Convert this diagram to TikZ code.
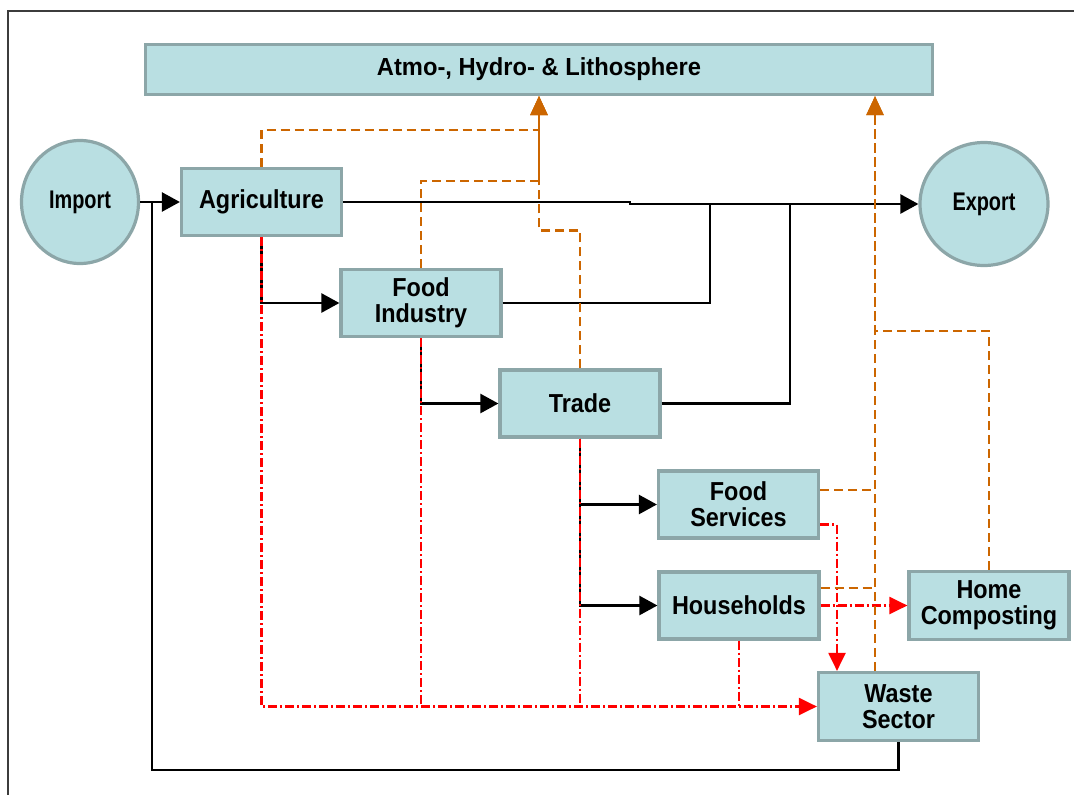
\documentclass[tikz,border=0pt]{standalone}
\usepackage{fontspec}
\setmainfont{Liberation Sans}
\newfontfamily\boxf[FakeStretch=0.9]{Liberation Sans}
\newfontfamily\atmof[FakeStretch=0.96]{Liberation Sans}
\newfontfamily\circf[FakeStretch=0.78]{Liberation Sans}
\usetikzlibrary{arrows.meta,shapes.geometric,calc}
\definecolor{boxfill}{RGB}{185,223,226}
\definecolor{boxline}{RGB}{140,166,168}
\definecolor{orng}{RGB}{204,102,0}
\definecolor{framec}{RGB}{60,60,60}
\begin{document}
\begin{tikzpicture}[x=1pt,y=-1pt,
  box/.style={draw=boxline, fill=boxfill, line width=3.2pt, minimum width=160pt, minimum height=67pt,
    inner sep=0pt, align=center, font=\boxf\bfseries\fontsize{26}{26}\selectfont},
  circ/.style={ellipse, draw=boxline, fill=boxfill, line width=3.2pt, inner sep=0pt,
    font=\circf\bfseries\fontsize{25.5}{26}\selectfont},
  blk/.style={line width=2.5pt, draw=black},
  blkarr/.style={blk, -{Triangle[length=18pt,width=19pt]}},
  orl/.style={line width=2.2pt, draw=orng, dash pattern=on 9pt off 5pt},
  orarr/.style={orl, -{Triangle[length=19pt,width=17pt]}},
  rdl/.style={line width=2.2pt, draw=red, dash pattern=on 9pt off 3pt on 2pt off 3pt},
  rdarr/.style={rdl, -{Triangle[length=18pt,width=17pt]}}
]
\useasboundingbox (0,0) rectangle (1074,795);
\draw[line width=1.5pt, draw=framec] (8,795) -- (8,11) -- (1074,11);

% nodes
\node[box, minimum width=787pt, minimum height=50pt, font=\atmof\bfseries\fontsize{24.7}{25}\selectfont]
  (atmo) at (539,69.5) {Atmo-, Hydro- \& Lithosphere};
\node[circ, minimum width=117pt, minimum height=123pt] (import) at (80,202) {Import};
\node[circ, minimum width=128pt, minimum height=123pt] (export) at (984,204) {Export};
\node[box] (agri) at (261.5,202) {Agriculture};
\node[box] (fi) at (421,303) {Food\\Industry};
\node[box] (trade) at (580,403.5) {Trade};
\node[box] (fs) at (738.5,504.5) {Food\\Services};
\node[box] (hh) at (739,605.5) {Households};
\node[box, minimum height=68pt] (hc) at (989,605.5) {Home\\Composting};
\node[box, minimum height=68pt] (ws) at (898.5,706.5) {Waste\\Sector};

\coordinate (atmoL) at (atmo.south);
\coordinate (atmoR) at ([xshift=336pt]atmo.south);
\coordinate (j1) at (152,202);
\coordinate (jx) at (630,202);

% black flows
\draw[blkarr] (import.east) -- (agri.west);
\draw[blk] (ws.south) |- (152,770) -- (j1);
\draw[blkarr] (agri.east) -- (jx) -- (jx |- export.west) -- (export.west);
\draw[blk] (fi.east) -| (710,204);
\draw[blk] (trade.east) -| (790,204);
\draw[blkarr] (agri.south) |- (fi.west);
\draw[blkarr] (fi.south) |- (trade.west);
\draw[blkarr] (trade.south) |- (fs.west);
\draw[blkarr] (trade.south) |- (hh.west);

% red waste flows
\draw[rdarr] (agri.south) |- (ws.west);
\draw[rdl] (fi.south) -- (fi.south |- ws.west);
\draw[rdl] (trade.south) -- (trade.south |- ws.west);
\draw[rdl] (hh.south) -- (hh.south |- ws.west);
\draw[rdarr] ([yshift=-20pt]fs.east) -| ([xshift=-61.5pt]ws.north);
\draw[rdarr] (hh.east) -- (hc.west);

% orange emissions
\draw[orarr] (agri.north) -- ++(0,-37) -| (atmoL);
\draw[orarr] (fi.north) -- ++(0,-87) -| (atmoL);
\draw[orarr] (trade.north) -- ++(0,-138) -| (atmoL);
\draw[orarr] ([xshift=-23.5pt]ws.north) -- (atmoR);
\draw[orarr] (hc.north) -- ++(0,-239) -| (atmoR);
\draw[orl] ([yshift=14.5pt]fs.east) -- ([yshift=14.5pt]fs.east -| atmoR);
\draw[orl] ([yshift=17.5pt]hh.east) -- ([yshift=17.5pt]hh.east -| atmoR);
\end{tikzpicture}
\end{document}
